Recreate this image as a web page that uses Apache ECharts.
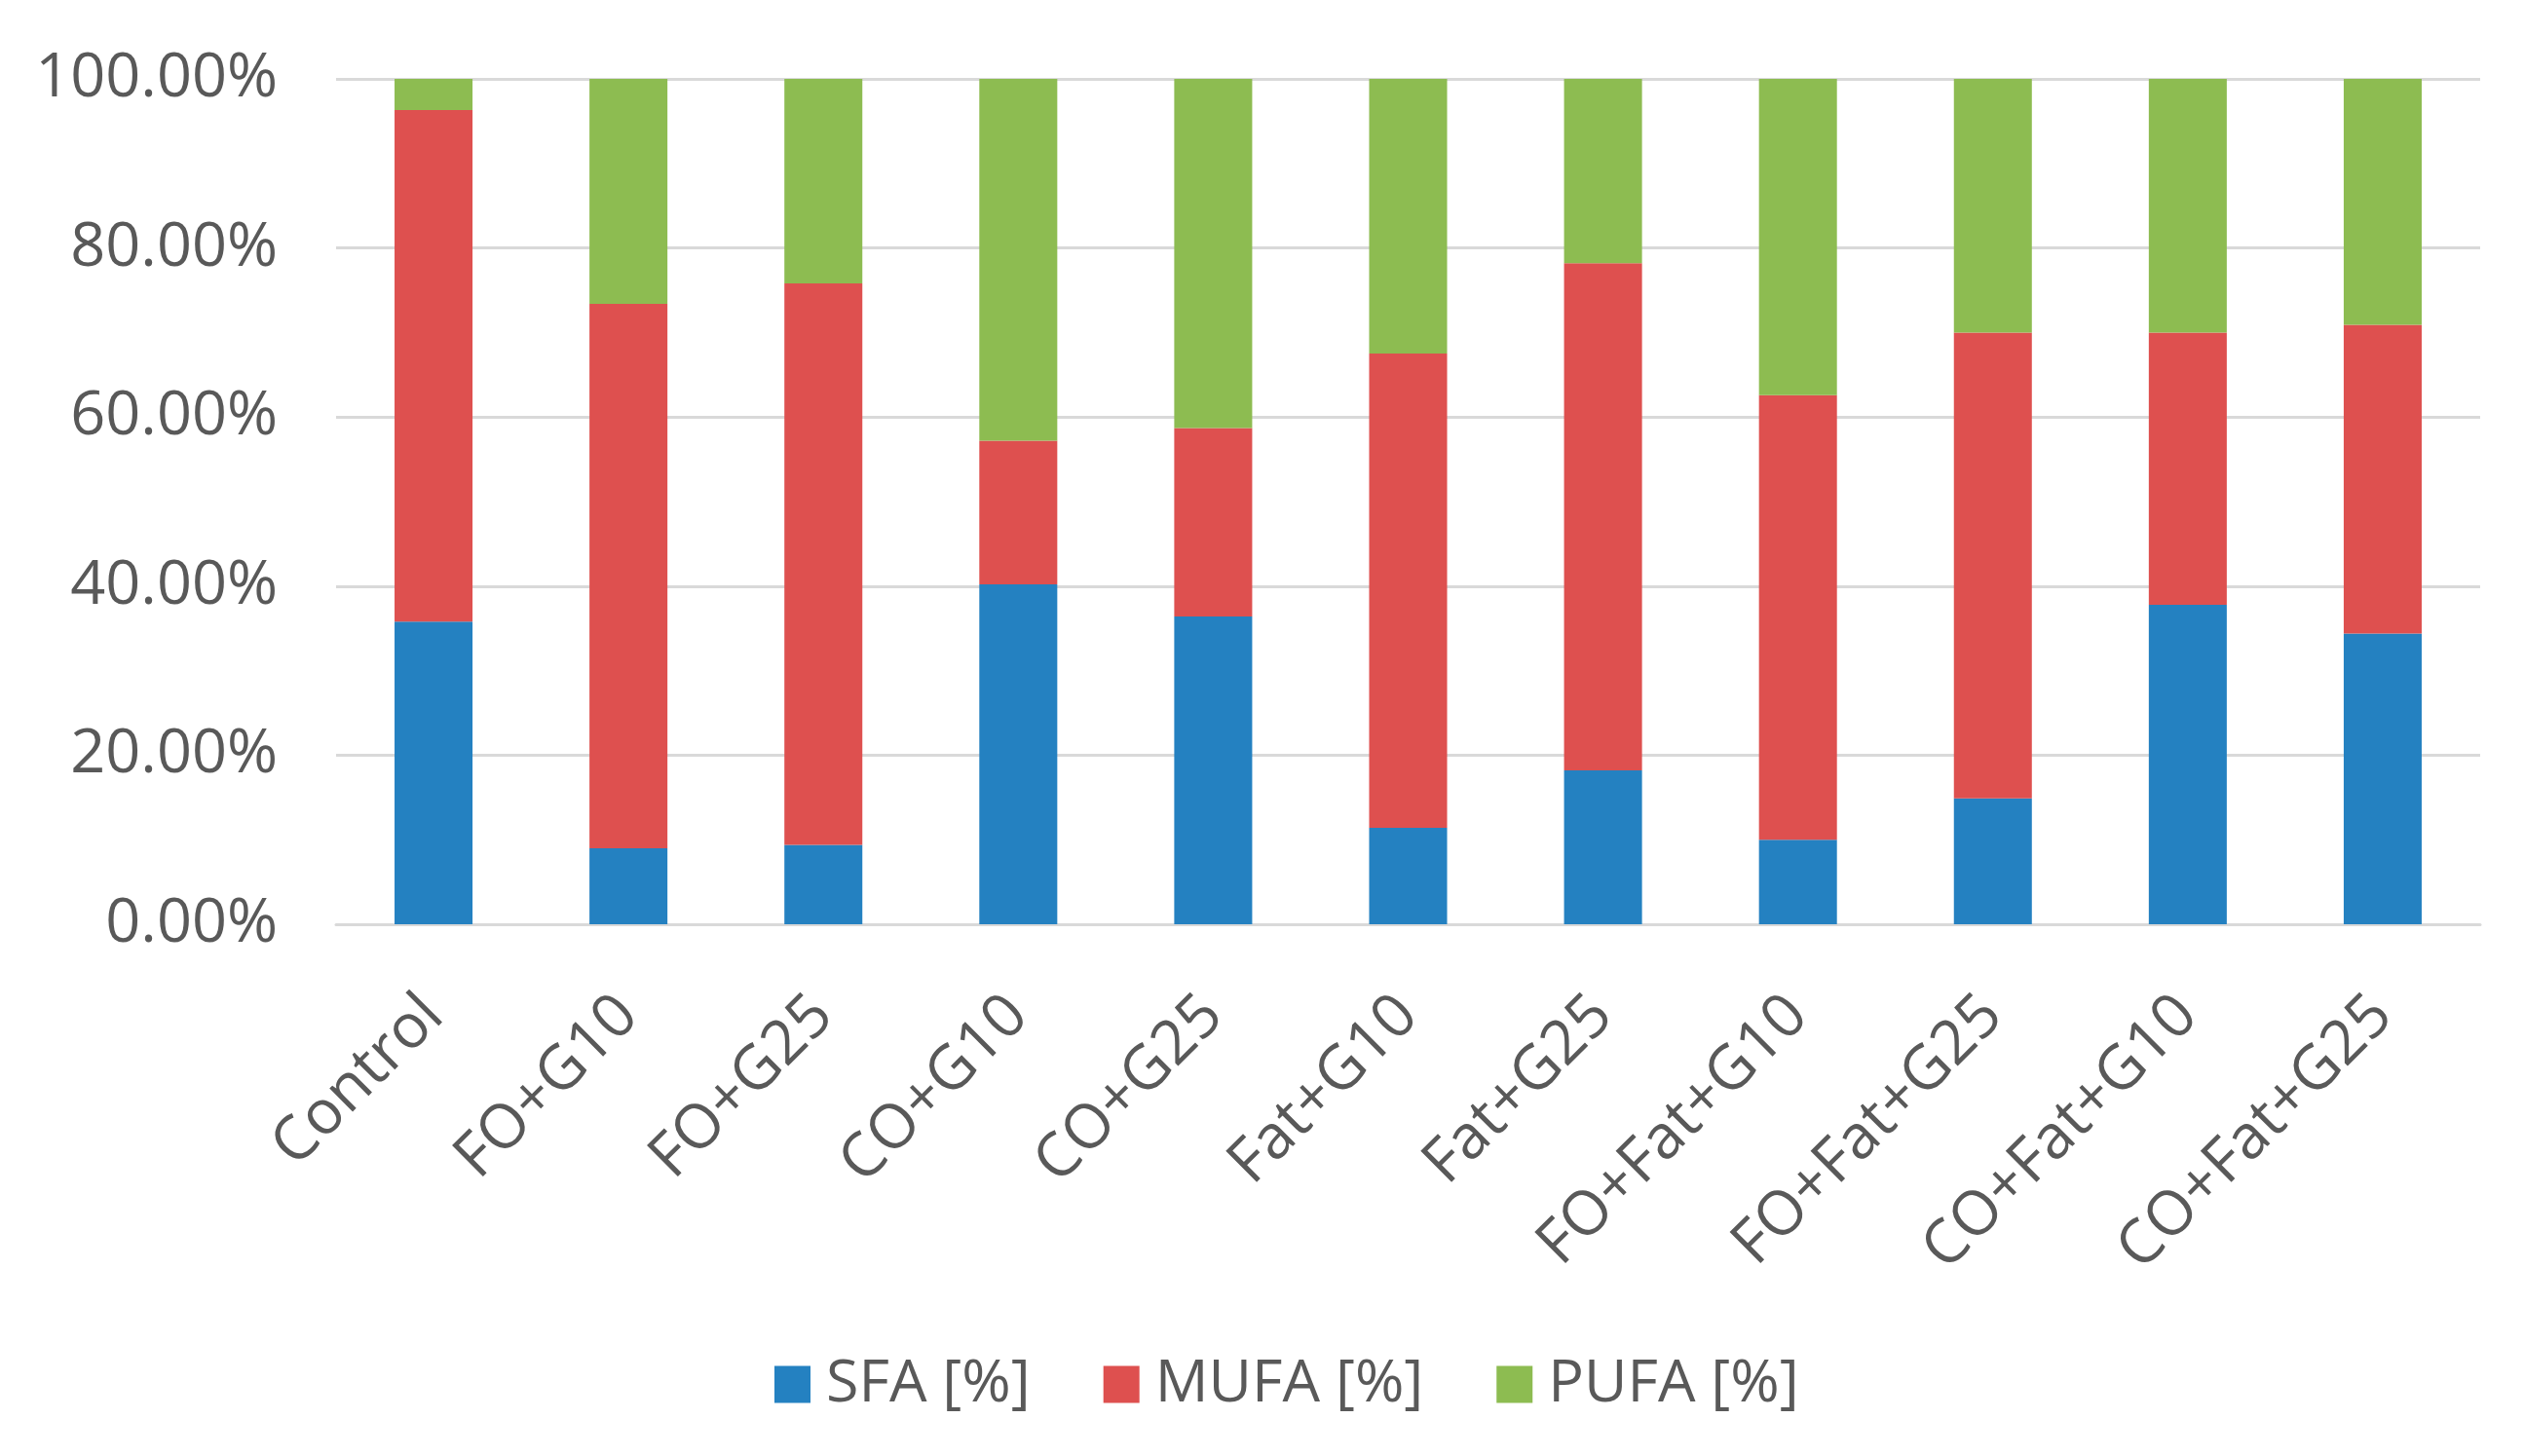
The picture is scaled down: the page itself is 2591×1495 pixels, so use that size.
<!DOCTYPE html>
<html>
<head>
<meta charset="utf-8">
<script src="https://cdn.jsdelivr.net/npm/echarts@6/dist/echarts.min.js"></script>
<style>
  html, body { margin: 0; padding: 0; background: #fff; }
  #chart { width: 2591px; height: 1495px; }
</style>
</head>
<body>
<div id="chart"></div>
<script>
  // categories and stacked shares (%)
  var categories = ['Control', 'FO+G10', 'FO+G25', 'CO+G10', 'CO+G25', 'Fat+G10', 'Fat+G25',
    'FO+Fat+G10', 'FO+Fat+G25', 'CO+Fat+G10', 'CO+Fat+G25'];
  var sfa  = [35.8,  9.0,  9.4, 40.2, 36.4, 11.4, 18.2, 10.0, 14.9, 37.8, 34.4];
  var mufa = [60.5, 64.4, 66.4, 17.0, 22.3, 56.1, 60.0, 52.6, 55.1, 32.2, 36.5];
  var pufa = [ 3.7, 26.6, 24.2, 42.8, 41.3, 32.5, 21.8, 37.4, 30.0, 30.0, 29.1];
  var seriesNames = ['SFA [%]', 'MUFA [%]', 'PUFA [%]'];
  var colors = ['#2481c1', '#de504f', '#8dbc51'];

  var chart = echarts.init(document.getElementById('chart'));
  var font = '"Open Sans", "Segoe UI", sans-serif';

  function barSeries(name, data, color) {
    return {
      name: name,
      type: 'bar',
      stack: 'total',
      barCategoryGap: '60%',
      itemStyle: { color: color },
      data: data
    };
  }

  var option = {
    backgroundColor: '#ffffff',
    animation: false,
    color: colors,
    grid: { left: 345, right: 45, top: 81, bottom: 546 },
    legend: {
      top: 1386,
      left: 790,
      itemWidth: 37,
      itemHeight: 38,
      itemGap: 75,
      icon: 'rect',
      textStyle: { color: '#595959', fontSize: 61, fontFamily: font, padding: [0, 0, 0, 11] },
      data: seriesNames
    },
    xAxis: {
      type: 'category',
      data: categories,
      axisTick: { show: false },
      axisLine: { show: true, lineStyle: { color: '#d9d9d9', width: 3 } },
      axisLabel: {
        rotate: 45,
        interval: 0,
        margin: 84,
        color: '#595959',
        fontSize: 63,
        fontFamily: font
      }
    },
    yAxis: {
      type: 'value',
      min: 0,
      max: 100,
      interval: 20,
      axisLine: { show: false },
      axisTick: { show: false },
      splitLine: { lineStyle: { color: '#d9d9d9', width: 3 } },
      axisLabel: {
        margin: 60,
        color: '#595959',
        fontSize: 63,
        fontFamily: font,
        formatter: function (v) { return v.toFixed(2) + '%'; }
      }
    },
    series: [
      barSeries(seriesNames[0], sfa, colors[0]),
      barSeries(seriesNames[1], mufa, colors[1]),
      barSeries(seriesNames[2], pufa, colors[2])
    ]
  };
  chart.setOption(option);
</script>
</body>
</html>
